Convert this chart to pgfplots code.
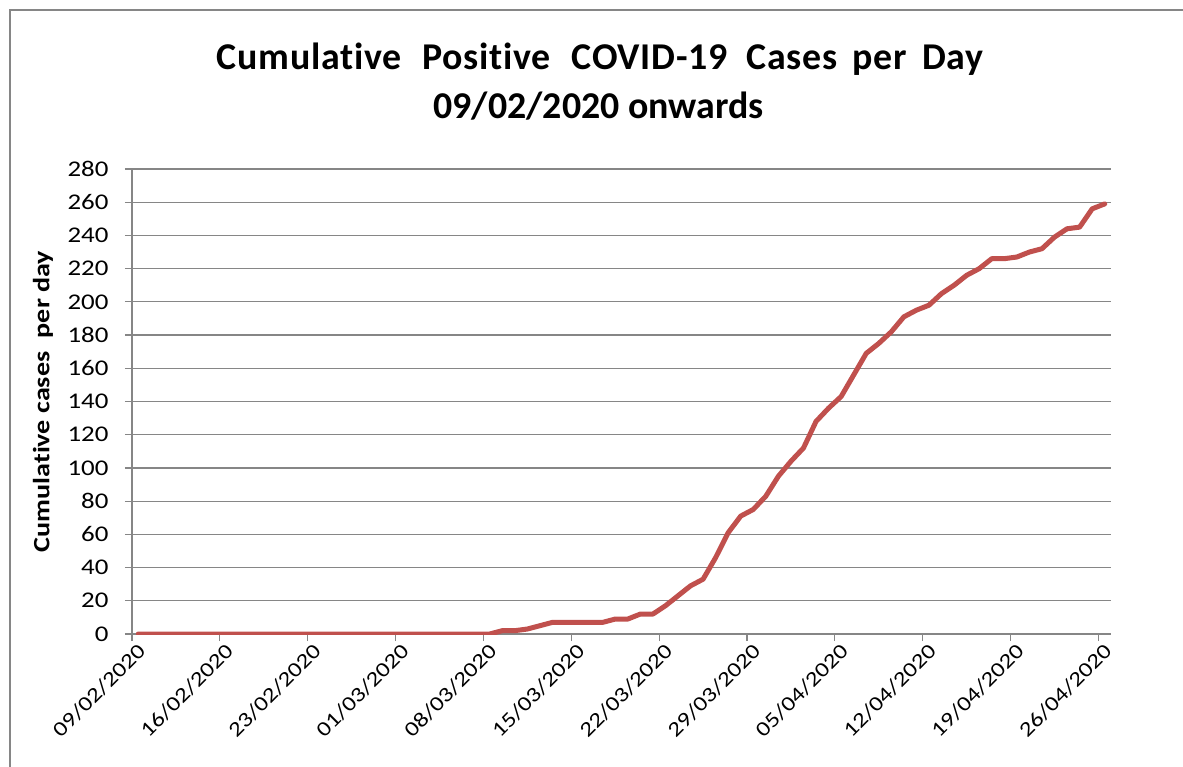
\documentclass[border=0pt]{standalone}
\usepackage{fontspec}
\setmainfont{Carlito}[Ligatures=CommonOff]
\newfontfamily\tickfont{Carlito}[FakeStretch=1.2, Ligatures=CommonOff]
\newfontfamily\titlefont{Carlito}[LetterSpace=2.0, Ligatures=CommonOff]
\usepackage{pgfplots}
\usepackage{pgfplotstable}
\pgfplotsset{compat=1.18}
\definecolor{excelred}{RGB}{192,80,77}
\definecolor{gridgray}{RGB}{134,134,134}

% day 0 = 09/02/2020
\pgfplotstableread{
day cases
0 0
1 0
2 0
3 0
4 0
5 0
6 0
7 0
8 0
9 0
10 0
11 0
12 0
13 0
14 0
15 0
16 0
17 0
18 0
19 0
20 0
21 0
22 0
23 0
24 0
25 0
26 0
27 0
28 0
29 2
30 2
31 3
32 5
33 7
34 7
35 7
36 7
37 7
38 9
39 9
40 12
41 12
42 17
43 23
44 29
45 33
46 46
47 61
48 71
49 75
50 83
51 95
52 104
53 112
54 128
55 136
56 143
57 156
58 169
59 175
60 182
61 191
62 195
63 198
64 205
65 210
66 216
67 220
68 226
69 226
70 227
71 230
72 232
73 239
74 244
75 245
76 256
77 259
}\cases

\begin{document}
\begin{tikzpicture}
\path[use as bounding box] (-132bp,-133bp) rectangle (1051bp,634bp);
\draw[gridgray, line width=1.2bp] (-122bp,-140bp) -- (-122bp,624bp) -- (1060bp,624bp);
\begin{axis}[
  at={(0,0)}, anchor=south west,
  scale only axis, width=979bp, height=465bp,
  xmin=0, xmax=78, ymin=0, ymax=280,
  xtick={0,7,...,77},
  xticklabels={09/02/2020,16/02/2020,23/02/2020,01/03/2020,08/03/2020,15/03/2020,
    22/03/2020,29/03/2020,05/04/2020,12/04/2020,19/04/2020,26/04/2020},
  x tick label style={rotate=45, anchor=north east, inner sep=1bp,
    xshift=3bp, yshift=-3bp,
    font=\tickfont\fontsize{21}{21}\selectfont},
  ytick={0,20,...,280},
  y tick label style={font=\tickfont\fontsize{22.5}{22.5}\selectfont, xshift=-13bp},
  ymajorgrids, grid style={gridgray, line width=1.2bp},
  axis x line*=bottom, axis y line*=left,
  axis line style={gridgray, line width=1.2bp},
  tick style={gridgray, line width=1.2bp},
  tick align=outside, major tick length=7bp,
  ylabel={\bfseries Cumulative cases\hspace{0.3em} per day},
  ylabel style={font=\tickfont\fontsize{23.5}{23.5}\selectfont,
    at={(axis description cs:-0.0909,0.5)}, anchor=center},
  /pgf/number format/assume math mode=true,
]
\addplot[excelred, line width=5bp, line join=round, line cap=round]
  table[x expr=\thisrow{day}+0.5, y=cases] {\cases};
\end{axis}
\node[anchor=base, inner sep=0pt, font=\titlefont\fontsize{38}{38}\selectfont\bfseries]
  at (468bp,564bp) {Cumulative\hspace{0.3em} Positive\hspace{0.3em} COVID-19\hspace{0.25em} Cases\hspace{0.15em} per\hspace{0.15em} Day};
\node[anchor=base, inner sep=0pt, font=\fontsize{38}{38}\selectfont\bfseries]
  at (466.5bp,515bp) {09/02/2020 onwards};
\end{tikzpicture}
\end{document}
